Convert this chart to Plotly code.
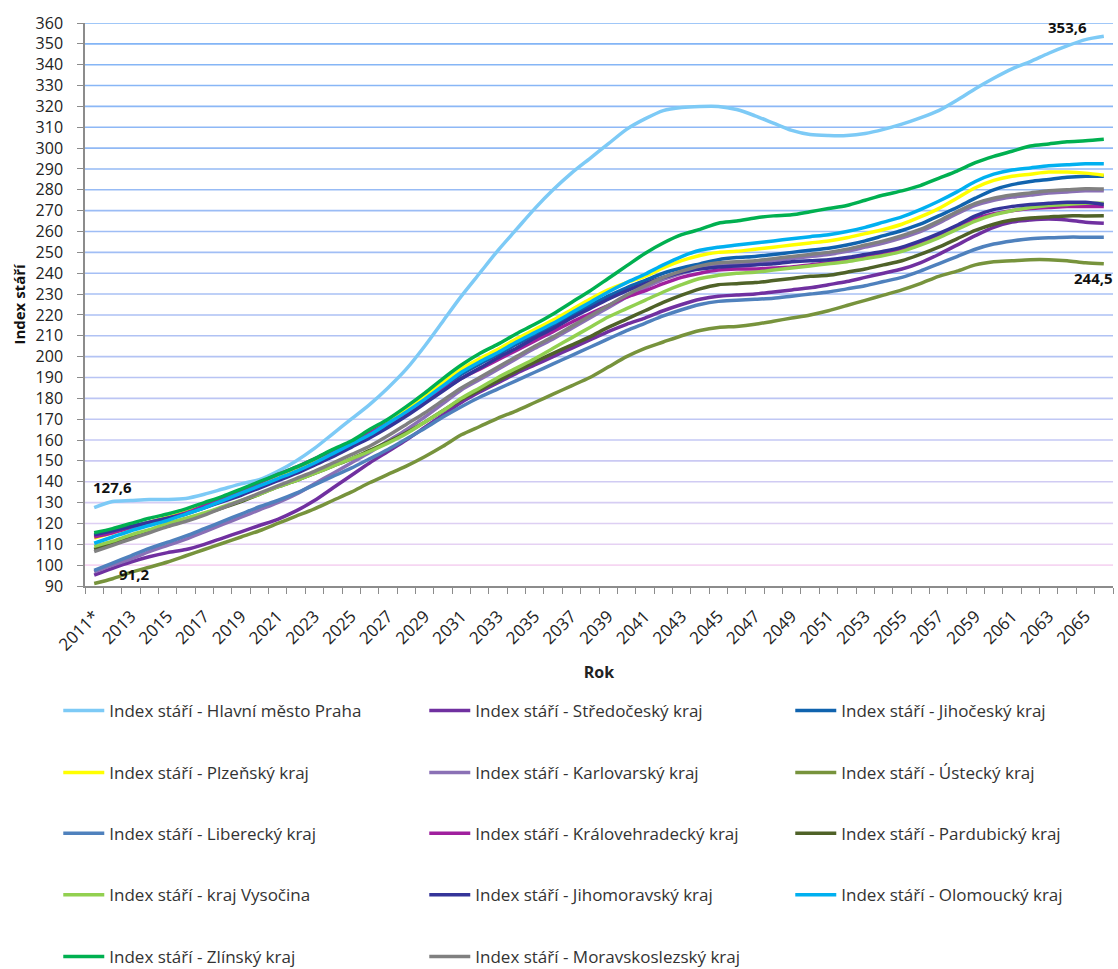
import plotly.graph_objects as go

# ---------------- data ----------------
YEARS = list(range(2011, 2067))
TICK_YEARS = [2011, 2013, 2015, 2017, 2019, 2021, 2023, 2025, 2027, 2029, 2031, 2033, 2035, 2037,
              2039, 2041, 2043, 2045, 2047, 2049, 2051, 2053, 2055, 2057, 2059, 2061, 2063, 2065]
TICK_LABELS = ["2011*", "2013", "2015", "2017", "2019", "2021", "2023", "2025", "2027", "2029",
               "2031", "2033", "2035", "2037", "2039", "2041", "2043", "2045", "2047", "2049",
               "2051", "2053", "2055", "2057", "2059", "2061", "2063", "2065"]

PRAHA = [127.6, 130.5, 131.0, 131.5, 131.5, 132.0, 134.0, 136.5, 139.0, 141.0,
         145.0, 150.0, 156.0, 163.0, 170.0, 177.0, 185.0, 194.0, 205.0, 217.0,
         229.0, 240.0, 251.0, 261.0, 271.0, 280.0, 288.0, 295.0, 302.0, 309.0,
         314.0, 318.0, 319.5, 320.0, 320.0, 318.5, 315.5, 312.0, 308.5, 306.5,
         306.0, 306.0, 307.0, 309.0, 311.5, 314.5, 318.0, 323.0, 328.5, 333.5,
         338.0, 341.5, 345.5, 349.0, 352.0, 353.6]
STREDOCESKY = [95.2, 98.5, 101.5, 104.0, 106.0, 107.5, 110.0, 113.0, 116.0, 119.0,
               122.0, 126.0, 131.0, 137.0, 143.0, 149.0, 154.5, 160.0, 166.0, 172.0,
               178.0, 183.0, 187.5, 192.0, 196.0, 200.0, 204.0, 208.0, 212.0, 215.5,
               218.5, 222.0, 225.0, 227.5, 229.0, 229.5, 230.0, 231.0, 232.0, 233.0,
               234.5, 236.0, 238.0, 240.0, 242.0, 245.0, 249.0, 253.5, 258.0, 262.0,
               264.5, 265.5, 266.0, 265.5, 264.5, 264.0]
JIHOCESKY = [114.0, 116.0, 118.5, 120.5, 122.5, 125.0, 128.0, 131.0, 134.0, 137.5,
             141.0, 144.5, 148.5, 153.0, 157.5, 162.0, 167.5, 173.0, 179.0, 185.0,
             191.5, 196.5, 201.0, 206.0, 210.5, 215.0, 220.0, 224.5, 229.0, 233.0,
             236.5, 240.0, 242.5, 244.5, 246.5, 247.5, 248.0, 249.0, 250.0, 251.0,
             252.0, 253.5, 255.5, 258.0, 260.5, 263.5, 267.5, 271.5, 276.0, 280.0,
             282.5, 284.0, 285.0, 286.0, 286.5, 286.5]
PLZENSKY = [113.0, 115.5, 118.0, 120.5, 123.0, 125.5, 128.5, 131.5, 135.0, 138.5,
            142.0, 145.5, 150.0, 154.5, 159.0, 163.5, 169.0, 175.0, 181.0, 187.5,
            194.0, 199.0, 203.5, 208.5, 213.0, 217.5, 222.5, 227.5, 232.0, 235.5,
            238.5, 242.5, 246.0, 248.5, 250.0, 250.5, 251.5, 252.5, 253.5, 254.5,
            255.5, 257.0, 259.0, 261.0, 263.5, 267.0, 271.0, 276.0, 281.0, 284.5,
            286.5, 287.5, 288.5, 288.5, 288.0, 287.0]
KARLOVARSKY = [96.8, 100.0, 103.0, 106.5, 109.5, 112.5, 116.0, 119.5, 123.0, 126.5,
               130.0, 134.0, 139.0, 144.0, 149.0, 154.0, 159.5, 165.0, 171.0, 177.5,
               184.0, 189.0, 194.0, 199.0, 204.0, 208.5, 213.5, 218.5, 223.5, 228.5,
               233.0, 237.0, 240.0, 242.5, 244.0, 244.5, 245.0, 246.0, 247.0, 248.0,
               249.0, 250.5, 252.5, 254.5, 257.0, 260.0, 264.0, 268.5, 272.5, 275.0,
               276.5, 277.5, 278.5, 279.0, 279.5, 279.5]
USTECKY = [91.2, 93.5, 96.5, 99.0, 101.5, 104.5, 107.5, 110.5, 113.5, 116.5,
           120.0, 123.5, 127.0, 131.0, 135.0, 139.5, 143.5, 147.5, 152.0, 157.0,
           162.5, 166.5, 170.5, 174.0, 178.0, 182.0, 186.0, 190.0, 195.0, 200.0,
           204.0, 207.0, 210.0, 212.5, 214.0, 214.5, 215.5, 217.0, 218.5, 220.0,
           222.0, 224.5, 227.0, 229.5, 232.0, 235.0, 238.5, 241.0, 244.0, 245.5,
           246.0, 246.5, 246.5, 246.0, 245.0, 244.5]
LIBERECKY = [97.5, 101.0, 104.5, 108.0, 111.0, 114.0, 117.5, 121.0, 124.5, 128.0,
             131.0, 134.5, 138.5, 142.5, 146.5, 151.0, 155.5, 160.5, 165.5, 171.0,
             176.0, 180.5, 184.5, 188.5, 192.5, 196.5, 200.5, 204.5, 208.5, 212.5,
             216.0, 219.5, 222.5, 225.0, 226.5, 227.0, 227.5, 228.0, 229.0, 230.0,
             231.0, 232.5, 234.0, 236.0, 238.0, 241.0, 244.5, 248.0, 251.5, 254.0,
             255.5, 256.5, 257.0, 257.3, 257.3, 257.3]
KRALOVEHRADECKY = [113.5, 115.5, 118.0, 120.5, 122.5, 125.0, 128.5, 132.0, 135.5, 139.5,
                   143.5, 147.0, 151.0, 155.0, 159.0, 163.5, 168.0, 173.0, 178.5, 184.0,
                   189.5, 194.0, 198.5, 203.0, 207.5, 212.0, 216.5, 220.5, 224.5, 228.5,
                   231.5, 235.0, 238.0, 240.0, 241.5, 242.0, 242.0, 242.5, 243.0, 244.0,
                   245.0, 246.5, 248.0, 249.5, 251.5, 254.5, 258.0, 262.0, 266.0, 268.5,
                   270.0, 271.0, 271.5, 272.0, 272.0, 272.0]
PARDUBICKY = [107.5, 110.5, 113.5, 116.5, 119.0, 121.5, 124.5, 127.5, 130.5, 134.0,
              137.5, 140.5, 144.0, 147.5, 151.0, 155.0, 159.0, 163.5, 168.5, 174.0,
              179.5, 184.0, 188.5, 193.0, 197.5, 201.6, 205.5, 209.5, 214.0, 218.0,
              222.0, 226.0, 229.5, 232.5, 234.5, 235.0, 235.5, 236.5, 237.5, 238.5,
              239.0, 240.5, 242.0, 244.0, 246.0, 249.0, 252.5, 256.5, 260.5, 263.5,
              265.5, 266.5, 267.0, 267.5, 267.5, 267.6]
VYSOCINA = [109.0, 111.5, 114.5, 117.0, 120.0, 122.5, 125.0, 128.0, 131.0, 134.0,
            137.5, 140.5, 144.0, 147.5, 151.0, 154.5, 158.5, 163.0, 168.5, 174.0,
            180.0, 185.0, 190.0, 194.5, 199.0, 204.0, 209.0, 214.0, 219.0, 223.0,
            227.0, 231.0, 234.5, 237.5, 239.0, 240.0, 240.5, 241.5, 242.5, 243.5,
            244.5, 245.5, 247.0, 248.5, 250.5, 253.5, 257.0, 261.0, 265.0, 268.0,
            270.0, 271.5, 272.5, 273.0, 273.5, 273.5]
JIHOMORAVSKY = [114.5, 116.5, 118.5, 120.5, 122.5, 124.5, 127.5, 130.5, 133.5, 137.0,
                140.5, 144.0, 148.0, 152.0, 156.5, 161.0, 166.0, 171.5, 177.5, 183.5,
                189.5, 194.5, 199.5, 204.0, 209.0, 213.5, 218.5, 223.0, 227.5, 231.5,
                235.0, 238.0, 240.5, 242.0, 243.0, 243.5, 244.0, 244.5, 245.5, 246.0,
                246.5, 247.5, 249.0, 250.5, 252.5, 255.5, 259.0, 263.0, 267.5, 270.5,
                272.0, 273.0, 273.5, 274.0, 274.0, 273.0]
OLOMOUCKY = [110.5, 113.5, 116.5, 119.0, 121.5, 124.5, 127.5, 131.0, 134.5, 138.0,
             141.5, 145.0, 149.0, 153.5, 158.0, 162.5, 168.0, 173.5, 179.5, 186.0,
             192.5, 197.5, 202.0, 207.0, 211.5, 216.0, 221.0, 226.0, 231.0, 235.5,
             239.5, 244.0, 248.0, 251.0, 252.5, 253.5, 254.5, 255.5, 256.5, 257.5,
             258.5, 260.0, 262.0, 264.5, 267.0, 270.5, 274.5, 279.0, 284.0, 287.5,
             289.5, 290.5, 291.5, 292.0, 292.5, 292.5]
ZLINSKY = [115.5, 117.5, 120.0, 122.5, 124.5, 127.0, 130.0, 133.0, 136.5, 140.0,
           143.5, 147.0, 151.0, 155.5, 159.5, 165.0, 170.0, 176.0, 182.5, 189.5,
           196.0, 201.5, 206.0, 211.0, 215.5, 220.5, 226.0, 231.5, 237.5, 243.5,
           249.5, 254.5, 258.5, 261.0, 264.0, 265.0, 266.5, 267.5, 268.0, 269.5,
           271.0, 272.5, 275.0, 277.5, 279.5, 282.0, 285.5, 289.0, 293.0, 296.0,
           298.5, 301.0, 302.0, 303.0, 303.5, 304.2]
MORAVSKOSLEZSKY = [106.5, 109.5, 112.5, 115.5, 118.5, 121.0, 124.0, 127.5, 131.0, 134.5,
                   138.0, 141.5, 145.0, 149.0, 153.0, 157.0, 162.0, 167.5, 173.0, 179.0,
                   185.0, 190.0, 195.0, 200.0, 205.0, 209.5, 214.5, 219.5, 224.5, 229.5,
                   234.0, 238.0, 241.0, 243.5, 245.0, 245.5, 246.0, 247.0, 248.0, 249.0,
                   250.0, 251.5, 253.5, 255.5, 258.0, 261.0, 265.0, 269.5, 273.5, 276.0,
                   277.5, 278.5, 279.5, 280.0, 280.5, 280.4]

SERIES_NAMES = [
    "Index stáří - Hlavní město Praha", "Index stáří - Středočeský kraj", "Index stáří - Jihočeský kraj",
    "Index stáří - Plzeňský kraj", "Index stáří - Karlovarský kraj", "Index stáří - Ústecký kraj",
    "Index stáří - Liberecký kraj", "Index stáří - Královehradecký kraj", "Index stáří - Pardubický kraj",
    "Index stáří - kraj Vysočina", "Index stáří - Jihomoravský kraj", "Index stáří - Olomoucký kraj",
    "Index stáří - Zlínský kraj", "Index stáří - Moravskoslezský kraj",
]
SERIES_VALUES = [PRAHA, STREDOCESKY, JIHOCESKY, PLZENSKY, KARLOVARSKY, USTECKY, LIBERECKY,
                 KRALOVEHRADECKY, PARDUBICKY, VYSOCINA, JIHOMORAVSKY, OLOMOUCKY, ZLINSKY,
                 MORAVSKOSLEZSKY]
SERIES_COLORS = ["#7DCAF6", "#7030A0", "#1063AE", "#FFFF00", "#8A70B5", "#77933C", "#4F81BD",
                 "#A0209E", "#4F6228", "#92D050", "#343499", "#00B0F0", "#00B050", "#808080"]

Y_TICKS = [90, 100, 110, 120, 130, 140, 150, 160, 170, 180, 190, 200, 210, 220, 230, 240, 250,
           260, 270, 280, 290, 300, 310, 320, 330, 340, 350, 360]

# ---------------- figure ----------------
FONT = "Open Sans, Liberation Sans, sans-serif"
fig = go.Figure()

for i, (name, vals, col) in enumerate(zip(SERIES_NAMES, SERIES_VALUES, SERIES_COLORS)):
    row = i // 3
    fig.add_trace(go.Scatter(
        x=YEARS, y=vals, name=name, mode="lines",
        line=dict(color=col, width=3.5, shape="spline", smoothing=0.8),
        legend="legend" if row == 0 else f"legend{row + 1}",
        hoverinfo="x+y+name",
    ))

# gridlines with the soft blue-to-pink gradient
def grid_color(v):
    t = (v - 100) / 260.0
    t = max(0.0, min(1.0, t)) ** 0.6
    c0 = (246, 214, 242)
    c1 = (128, 180, 246)
    return "rgb(%d,%d,%d)" % tuple(round(a + (b - a) * t) for a, b in zip(c0, c1))

for v in Y_TICKS[1:]:
    fig.add_shape(type="line", xref="paper", x0=0, x1=1, yref="y", y0=v, y1=v,
                  line=dict(color=grid_color(v), width=1.6), layer="below")

def fmt(v):
    return ("%.1f" % v).replace(".", ",")

label_font = dict(family=FONT, size=15, color="#111111", weight="bold")
fig.add_annotation(x=YEARS[0], y=PRAHA[0], text=fmt(PRAHA[0]), showarrow=False,
                   xshift=18, yshift=21, font=label_font)
fig.add_annotation(x=YEARS[0], y=USTECKY[0], text=fmt(USTECKY[0]), showarrow=False,
                   xshift=40, yshift=10, font=label_font)
fig.add_annotation(x=YEARS[-1], y=PRAHA[-1], text=fmt(PRAHA[-1]), showarrow=False,
                   xshift=-36, yshift=9, font=label_font)
fig.add_annotation(x=YEARS[-1], y=USTECKY[-1], text=fmt(USTECKY[-1]), showarrow=False,
                   xshift=-10, yshift=-14, font=label_font)

legend_rows_y = [-0.222, -0.332, -0.440, -0.549, -0.659]
legend_common = dict(orientation="h", x=-0.026, xanchor="left", yanchor="middle",
                     entrywidth=310, entrywidthmode="pixels", bgcolor="rgba(0,0,0,0)",
                     font=dict(family=FONT, size=17, color="#333333"), itemwidth=41,
                     tracegroupgap=0)
layout_legends = {}
for r, yy in enumerate(legend_rows_y):
    key = "legend" if r == 0 else f"legend{r + 1}"
    layout_legends[key] = dict(legend_common, y=yy)

fig.update_layout(
    width=1118, height=969,
    margin=dict(l=85, r=5, t=23, b=383, autoexpand=False),
    paper_bgcolor="white", plot_bgcolor="white",
    font=dict(family=FONT, size=16, color="#222222"),
    showlegend=True,
    **layout_legends,
)

fig.update_xaxes(
    range=[YEARS[0] - 0.5, YEARS[-1] + 0.5],
    tickmode="array", tickvals=TICK_YEARS, ticktext=TICK_LABELS,
    tickangle=-45, ticks="", ticklen=0,
    tickfont=dict(family=FONT, size=17, color="#222222"),
    ticklabelstandoff=12,
    showgrid=False, zeroline=False,
    showline=True, linecolor="#8C8C8C", linewidth=1.5,
    minor=dict(tick0=YEARS[0] - 0.5, dtick=1, ticks="outside", ticklen=6,
               tickcolor="#8C8C8C", tickwidth=1.3, showgrid=False),
    title=dict(text="Rok", font=dict(family=FONT, size=16, color="#222222", weight="bold"),
               standoff=12),
)
fig.update_yaxes(
    range=[90, 360], tickmode="array", tickvals=Y_TICKS,
    ticks="outside", ticklen=6, tickcolor="#8C8C8C", tickwidth=1.3,
    tickfont=dict(family=FONT, size=16, color="#222222"),
    ticklabelstandoff=11,
    showgrid=False, zeroline=False,
    showline=True, linecolor="#8C8C8C", linewidth=1.5,
    title=dict(text="Index stáří", font=dict(family=FONT, size=15, color="#111111", weight="bold"),
               standoff=6),
)

fig.write_html("out.html", config={"displayModeBar": False},
               post_script="document.body.style.margin='0';")
